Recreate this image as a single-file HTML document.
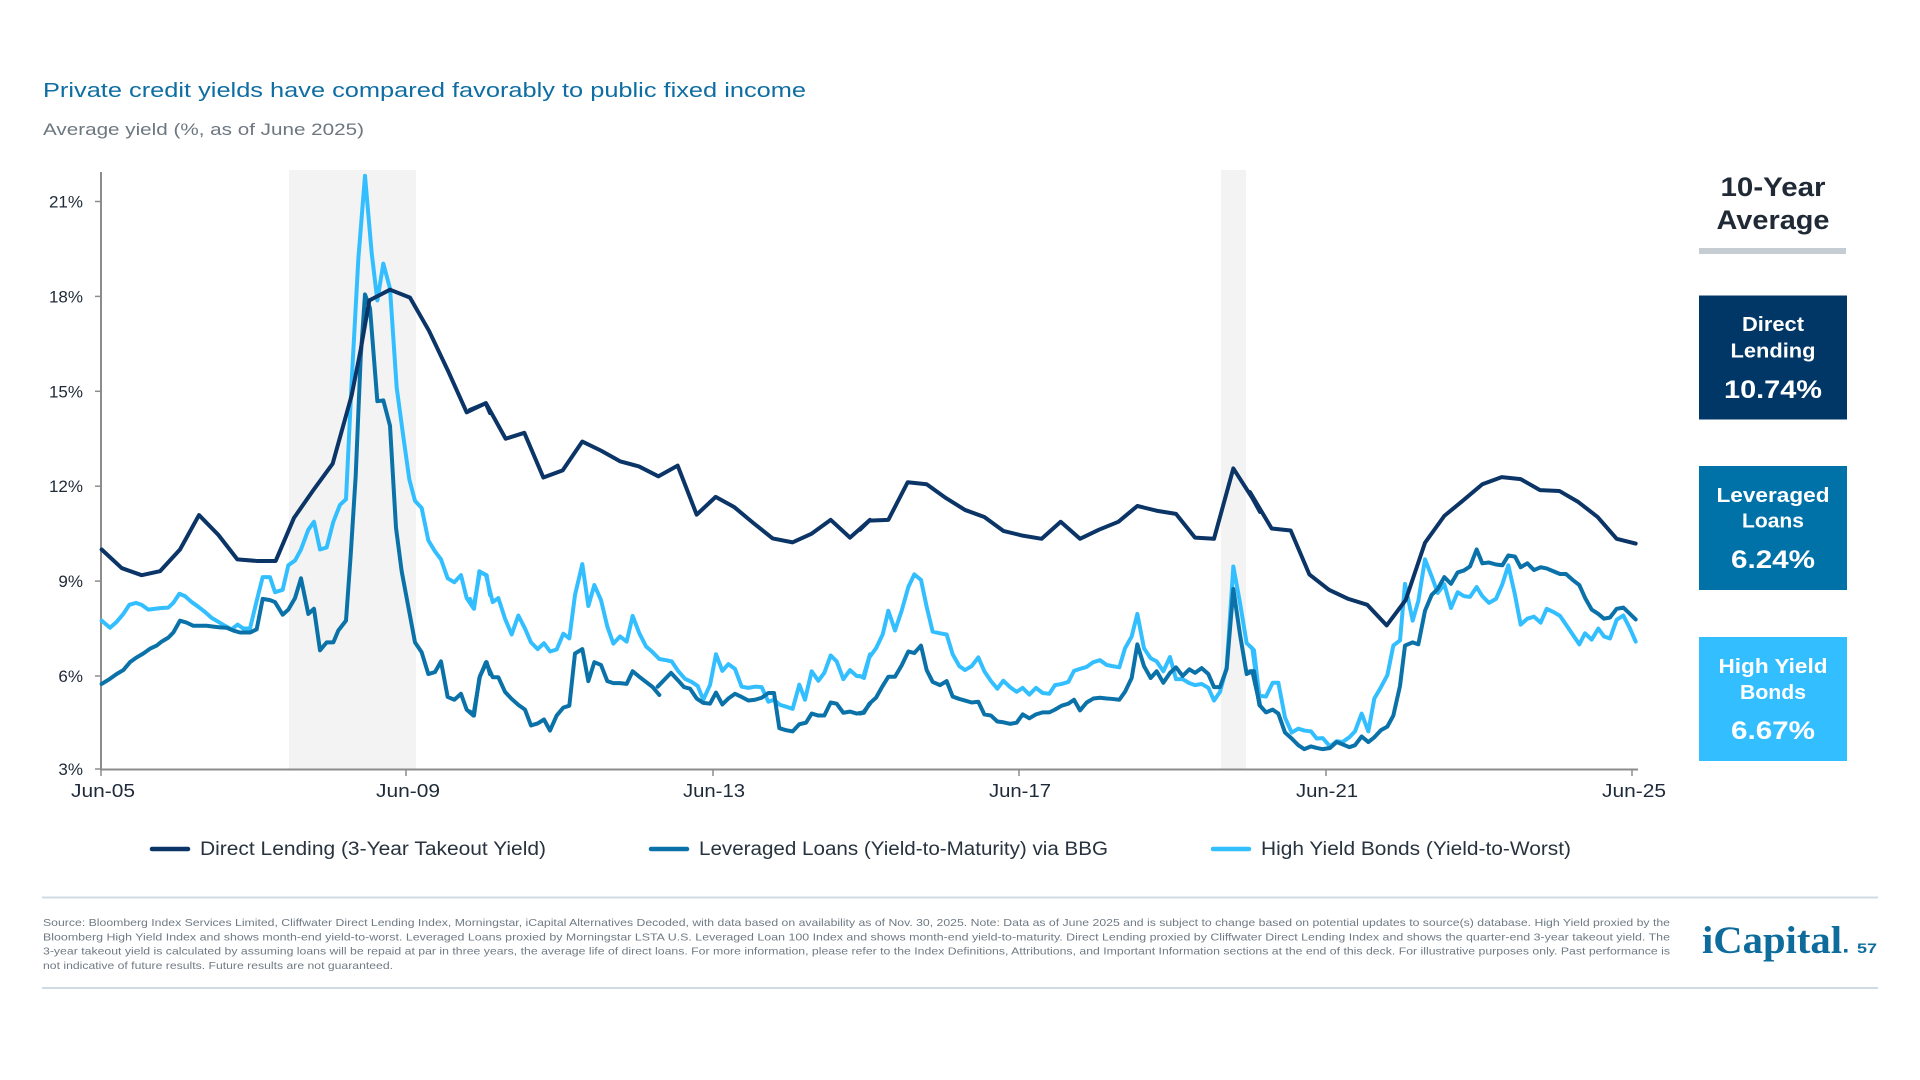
<!DOCTYPE html>
<html>
<head>
<meta charset="utf-8">
<style>
html,body{margin:0;padding:0;background:#ffffff;}
svg{display:block;}
text{font-family:"Liberation Sans",Arial,sans-serif;}
</style>
</head>
<body>
<svg width="1920" height="1080" viewBox="0 0 1920 1080" xmlns="http://www.w3.org/2000/svg">
<rect x="0" y="0" width="1920" height="1080" fill="#ffffff"/>

<!-- Title -->
<text x="43" y="97" font-size="20" fill="#0e6ea3" textLength="763" lengthAdjust="spacingAndGlyphs">Private credit yields have compared favorably to public fixed income</text>
<text x="43" y="135" font-size="17" fill="#6d7780" textLength="321" lengthAdjust="spacingAndGlyphs">Average yield (%, as of June 2025)</text>

<!-- Recession shading -->
<rect x="289" y="170" width="127" height="599" fill="#f3f3f3"/>
<rect x="1221" y="170" width="25" height="599" fill="#f3f3f3"/>

<!-- Axes -->
<line x1="101" y1="172" x2="101" y2="770" stroke="#8c8c8c" stroke-width="2"/>
<line x1="100" y1="769.5" x2="1638" y2="769.5" stroke="#8c8c8c" stroke-width="2"/>
<g stroke="#8c8c8c" stroke-width="1.5">
  <line x1="95" y1="201.5" x2="101" y2="201.5"/>
  <line x1="95" y1="296.4" x2="101" y2="296.4"/>
  <line x1="95" y1="391.3" x2="101" y2="391.3"/>
  <line x1="95" y1="486.2" x2="101" y2="486.2"/>
  <line x1="95" y1="581.1" x2="101" y2="581.1"/>
  <line x1="95" y1="676" x2="101" y2="676"/>
  <line x1="95" y1="769" x2="101" y2="769"/>
  <line x1="101" y1="769" x2="101" y2="776"/>
  <line x1="406" y1="769" x2="406" y2="776"/>
  <line x1="713" y1="769" x2="713" y2="776"/>
  <line x1="1019" y1="769" x2="1019" y2="776"/>
  <line x1="1326" y1="769" x2="1326" y2="776"/>
  <line x1="1632" y1="769" x2="1632" y2="776"/>
</g>

<!-- Y labels -->
<g font-size="17" fill="#1e2a38" text-anchor="end">
  <text x="83" y="207.5">21%</text>
  <text x="83" y="302.4">18%</text>
  <text x="83" y="397.3">15%</text>
  <text x="83" y="492.2">12%</text>
  <text x="83" y="587.1">9%</text>
  <text x="83" y="682">6%</text>
  <text x="83" y="775">3%</text>
</g>

<!-- X labels -->
<g font-size="18" fill="#1e2a38" text-anchor="middle">
  <text x="103" y="797" textLength="64" lengthAdjust="spacingAndGlyphs">Jun-05</text>
  <text x="408" y="797" textLength="64" lengthAdjust="spacingAndGlyphs">Jun-09</text>
  <text x="714" y="797" textLength="62" lengthAdjust="spacingAndGlyphs">Jun-13</text>
  <text x="1020" y="797" textLength="62" lengthAdjust="spacingAndGlyphs">Jun-17</text>
  <text x="1327" y="797" textLength="62" lengthAdjust="spacingAndGlyphs">Jun-21</text>
  <text x="1634" y="797" textLength="64" lengthAdjust="spacingAndGlyphs">Jun-25</text>
</g>

<!-- Series: segment 1 (x 90-490) -->
<g transform="translate(90,160) scale(0.333333,0.395408)" fill="none" stroke-width="4" stroke-linejoin="round" stroke-linecap="round">
  <polyline vector-effect="non-scaling-stroke" stroke="#33bfff" points="35,1165 60,1183 80,1168 100,1148 118,1125 138,1120 155,1125 175,1137 195,1135 215,1133 235,1132 250,1120 268,1097 285,1103 305,1118 325,1130 345,1143 365,1158 385,1168 405,1178 425,1187 443,1175 460,1185 480,1185 500,1115 518,1055 540,1055 555,1093 578,1087 595,1025 615,1013 633,985 655,935 672,915 690,985 710,980 730,915 750,872 768,858 785,560 805,250 825,40 845,235 862,355 880,262 900,325 920,575 940,700 958,808 975,862 995,880 1015,962 1035,990 1053,1010 1073,1058 1093,1068 1113,1050 1130,1108 1150,1133 1170,1042 1190,1050 1200,1100"/>
  <polyline vector-effect="non-scaling-stroke" stroke="#0a72a8" points="35,1325 60,1312 80,1300 100,1290 120,1270 140,1258 160,1248 180,1236 200,1228 215,1218 235,1208 250,1195 270,1165 290,1170 310,1178 330,1178 350,1178 370,1180 390,1182 410,1183 430,1190 450,1195 480,1195 500,1187 518,1110 540,1113 555,1118 578,1150 595,1137 615,1108 633,1058 655,1148 672,1135 690,1240 710,1220 730,1220 745,1190 768,1165 782,1000 797,800 812,500 825,340 840,375 862,610 880,608 900,672 918,930 935,1040 955,1130 975,1220 995,1245 1015,1300 1035,1295 1053,1268 1073,1358 1093,1365 1113,1350 1130,1390 1150,1405 1170,1305 1190,1270 1200,1300"/>
  <polyline vector-effect="non-scaling-stroke" stroke="#0b3467" points="35,985 95,1032 155,1050 210,1040 270,985 327,898 385,948 442,1010 500,1014 557,1014 612,905 670,835 728,768 785,595 812,480 838,355 900,328 960,348 1017,432 1075,535 1130,638 1187,615 1200,640"/>
</g>

<!-- Series: segment 2 (x 470-870) -->
<g transform="translate(470,160) scale(0.333333,0.395408)" fill="none" stroke-width="4" stroke-linejoin="round" stroke-linecap="round">
  <polyline vector-effect="non-scaling-stroke" stroke="#33bfff" points="0,1110 12,1135 28,1040 48,1050 68,1118 85,1108 105,1160 125,1200 145,1152 165,1185 183,1220 203,1237 222,1222 240,1243 260,1238 280,1198 298,1210 315,1100 337,1022 355,1128 373,1075 393,1113 412,1180 430,1223 450,1205 470,1218 488,1153 508,1197 528,1230 548,1245 568,1262 588,1265 605,1268 625,1293 645,1312 665,1320 683,1330 700,1365 720,1328 738,1250 757,1292 775,1275 795,1287 815,1332 835,1335 855,1332 875,1333 895,1370 912,1365 930,1378 950,1383 968,1388 988,1327 1005,1365 1025,1293 1045,1317 1063,1297 1082,1253 1100,1268 1120,1313 1140,1290 1160,1305 1180,1307 1200,1250"/>
  <polyline vector-effect="non-scaling-stroke" stroke="#0a72a8" points="0,1395 12,1405 28,1310 48,1270 68,1308 85,1308 105,1345 125,1363 145,1378 165,1390 183,1430 203,1425 222,1415 240,1443 260,1405 280,1385 298,1380 315,1248 337,1237 355,1318 373,1270 393,1277 412,1318 430,1323 450,1323 470,1325 488,1293 508,1307 528,1320 548,1333 568,1353"/>
  <polyline vector-effect="non-scaling-stroke" stroke="#0a72a8" points="563,1332 603,1297 623,1315 642,1333 660,1337 680,1362 700,1373 720,1375 738,1347 757,1377 775,1362 795,1350 815,1358 835,1367 855,1365 875,1360 895,1348 912,1348 928,1437 948,1442 968,1445 988,1427 1008,1423 1025,1400 1045,1405 1063,1405 1082,1372 1100,1375 1120,1398 1140,1395 1160,1400 1180,1397 1200,1375"/>
  <polyline vector-effect="non-scaling-stroke" stroke="#0b3467" points="0,632 48,615 107,705 163,690 220,803 278,785 337,712 393,735 450,762 507,775 565,800 623,773 680,897 737,852 793,878 850,918 908,957 968,967 1025,945 1082,910 1140,955 1200,910"/>
</g>

<!-- Series: segment 3 (x 860-1260) -->
<g transform="translate(860,160) scale(0.333333,0.395408)" fill="none" stroke-width="4" stroke-linejoin="round" stroke-linecap="round">
  <polyline vector-effect="non-scaling-stroke" stroke="#33bfff" points="0,1305 12,1310 28,1258 48,1235 68,1200 85,1140 105,1190 125,1140 145,1080 163,1048 183,1062 200,1130 218,1193 240,1197 260,1200 278,1250 298,1280 315,1290 335,1280 355,1258 373,1293 393,1318 412,1337 430,1317 450,1333 470,1345 488,1335 508,1352 528,1335 548,1348 568,1350 585,1328 605,1325 625,1320 642,1292 660,1287 680,1282 700,1270 720,1265 740,1277 757,1280 778,1283 795,1235 815,1205 832,1148 852,1235 872,1260 890,1268 910,1293 930,1257 948,1313 968,1313 988,1323 1005,1328 1025,1325 1045,1335 1062,1367 1080,1345 1100,1283 1120,1028 1140,1120 1160,1222 1177,1235 1200,1380"/>
  <polyline vector-effect="non-scaling-stroke" stroke="#0a72a8" points="0,1400 12,1398 28,1375 48,1360 68,1330 85,1307 105,1307 125,1278 145,1243 163,1247 183,1228 200,1290 218,1320 240,1328 260,1318 278,1357 298,1363 315,1367 335,1372 355,1370 373,1402 393,1405 412,1420 430,1422 450,1426 470,1423 488,1402 508,1412 528,1402 548,1397 568,1397 585,1390 605,1380 625,1375 642,1365 660,1392 680,1372 700,1362 720,1360 740,1362 757,1363 778,1365 795,1345 815,1310 832,1225 852,1280 872,1310 890,1293 910,1322 930,1297 948,1283 968,1305 988,1288 1005,1297 1025,1285 1045,1300 1062,1333 1080,1333 1100,1287 1120,1085 1140,1200 1160,1300 1177,1293 1200,1380"/>
  <polyline vector-effect="non-scaling-stroke" stroke="#0b3467" points="0,935 28,912 85,910 143,815 200,820 258,855 315,885 373,903 430,938 488,950 545,958 602,915 660,958 717,935 775,915 832,875 890,887 948,895 1005,955 1062,958 1120,780 1177,855 1200,890"/>
</g>

<!-- Series: segment 4 (x 1250-1650) -->
<g transform="translate(1250,160) scale(0.333333,0.395408)" fill="none" stroke-width="4" stroke-linejoin="round" stroke-linecap="round">
  <polyline vector-effect="non-scaling-stroke" stroke="#33bfff" points="0,1230 12,1240 28,1355 48,1357 68,1322 85,1322 105,1410 125,1448 145,1438 163,1443 183,1445 200,1463 218,1462 240,1483 260,1470 278,1472 298,1460 315,1445 335,1400 355,1445 373,1362 393,1333 412,1303 430,1228 450,1215 465,1072 488,1165 505,1115 525,1010 545,1053 563,1095 583,1073 603,1133 623,1093 642,1103 660,1105 680,1080 697,1103 717,1120 738,1110 757,1073 775,1025 795,1100 812,1175 832,1160 852,1155 872,1170 890,1135 910,1143 930,1153 948,1175 968,1200 988,1225 1005,1197 1025,1213 1045,1185 1062,1205 1080,1210 1100,1163 1120,1152 1140,1185 1157,1218"/>
  <polyline vector-effect="non-scaling-stroke" stroke="#0a72a8" points="0,1293 12,1293 28,1378 48,1397 68,1390 85,1400 105,1448 125,1463 145,1480 163,1490 183,1483 200,1487 218,1490 240,1487 260,1472 278,1478 298,1485 315,1480 335,1458 355,1472 373,1460 393,1442 412,1433 430,1405 450,1330 465,1228 488,1220 505,1225 525,1140 545,1100 563,1085 583,1055 603,1072 623,1043 642,1038 660,1028 680,985 697,1020 717,1018 738,1023 757,1025 775,1000 795,1003 812,1030 832,1020 852,1037 872,1030 890,1033 910,1040 930,1047 948,1047 968,1062 988,1075 1005,1107 1025,1137 1045,1148 1062,1160 1080,1157 1100,1135 1120,1132 1140,1148 1157,1162"/>
  <polyline vector-effect="non-scaling-stroke" stroke="#0b3467" points="0,840 65,932 122,937 178,1048 237,1087 295,1110 352,1125 410,1177 467,1113 525,968 583,900 638,862 697,820 755,802 812,807 870,835 928,837 985,865 1043,903 1100,958 1157,970"/>
</g>

<!-- Legend -->
<g stroke-width="4.5" stroke-linecap="round">
  <line x1="152" y1="849" x2="188" y2="849" stroke="#0b3467"/>
  <line x1="651" y1="849" x2="687" y2="849" stroke="#0a72a8"/>
  <line x1="1213" y1="849" x2="1249" y2="849" stroke="#33bfff"/>
</g>
<g font-size="19" fill="#27333f">
  <text x="200" y="855" textLength="346" lengthAdjust="spacingAndGlyphs">Direct Lending (3-Year Takeout Yield)</text>
  <text x="699" y="855" textLength="409" lengthAdjust="spacingAndGlyphs">Leveraged Loans (Yield-to-Maturity) via BBG</text>
  <text x="1261" y="855" textLength="310" lengthAdjust="spacingAndGlyphs">High Yield Bonds (Yield-to-Worst)</text>
</g>

<!-- Right panel -->
<g font-weight="bold" fill="#1f2a36" font-size="27" text-anchor="middle">
  <text x="1773" y="196" textLength="105" lengthAdjust="spacingAndGlyphs">10-Year</text>
  <text x="1773" y="229" textLength="113" lengthAdjust="spacingAndGlyphs">Average</text>
</g>
<rect x="1699" y="248" width="147" height="6" fill="#c5ccd2"/>

<rect x="1699" y="295.5" width="148" height="124" fill="#003767"/>
<rect x="1699" y="466" width="148" height="124" fill="#0072a8"/>
<rect x="1699" y="637" width="148" height="124" fill="#33bfff"/>
<g font-weight="bold" fill="#ffffff" text-anchor="middle">
  <text x="1773" y="331" font-size="20" textLength="62" lengthAdjust="spacingAndGlyphs">Direct</text>
  <text x="1773" y="357.5" font-size="20" textLength="85" lengthAdjust="spacingAndGlyphs">Lending</text>
  <text x="1773" y="398" font-size="25" textLength="98" lengthAdjust="spacingAndGlyphs">10.74%</text>

  <text x="1773" y="502" font-size="20" textLength="113" lengthAdjust="spacingAndGlyphs">Leveraged</text>
  <text x="1773" y="527.5" font-size="20" textLength="62" lengthAdjust="spacingAndGlyphs">Loans</text>
  <text x="1773" y="568" font-size="25" textLength="84" lengthAdjust="spacingAndGlyphs">6.24%</text>

  <text x="1773" y="673" font-size="20" textLength="109" lengthAdjust="spacingAndGlyphs">High Yield</text>
  <text x="1773" y="699" font-size="20" textLength="66" lengthAdjust="spacingAndGlyphs">Bonds</text>
  <text x="1773" y="739" font-size="25" textLength="84" lengthAdjust="spacingAndGlyphs">6.67%</text>
</g>

<!-- Footer -->
<line x1="42" y1="897.5" x2="1878" y2="897.5" stroke="#d3dbe2" stroke-width="2"/>
<line x1="42" y1="988" x2="1878" y2="988" stroke="#d3dbe2" stroke-width="2"/>
<g font-size="10.5" fill="#6f7a84">
  <text x="43" y="926" textLength="1627" lengthAdjust="spacingAndGlyphs">Source: Bloomberg Index Services Limited, Cliffwater Direct Lending Index, Morningstar, iCapital Alternatives Decoded, with data based on availability as of Nov. 30, 2025. Note: Data as of June 2025 and is subject to change based on potential updates to source(s) database. High Yield proxied by the</text>
  <text x="43" y="940.3" textLength="1627" lengthAdjust="spacingAndGlyphs">Bloomberg High Yield Index and shows month-end yield-to-worst. Leveraged Loans proxied by Morningstar LSTA U.S. Leveraged Loan 100 Index and shows month-end yield-to-maturity. Direct Lending proxied by Cliffwater Direct Lending Index and shows the quarter-end 3-year takeout yield. The</text>
  <text x="43" y="954.5" textLength="1627" lengthAdjust="spacingAndGlyphs">3-year takeout yield is calculated by assuming loans will be repaid at par in three years, the average life of direct loans. For more information, please refer to the Index Definitions, Attributions, and Important Information sections at the end of this deck. For illustrative purposes only. Past performance is</text>
  <text x="43" y="968.8" textLength="350" lengthAdjust="spacingAndGlyphs">not indicative of future results. Future results are not guaranteed.</text>
</g>
<text x="1702" y="953" font-size="39" font-weight="bold" fill="#0d6c9c" textLength="140" lengthAdjust="spacingAndGlyphs" style="font-family:'Liberation Serif',serif">iCapital</text>
<rect x="1844" y="949" width="3.5" height="3.5" fill="#0d6c9c"/>
<text x="1857" y="953" font-size="14" font-weight="bold" fill="#0d6c9c" textLength="20" lengthAdjust="spacingAndGlyphs">57</text>
</svg>
</body>
</html>
